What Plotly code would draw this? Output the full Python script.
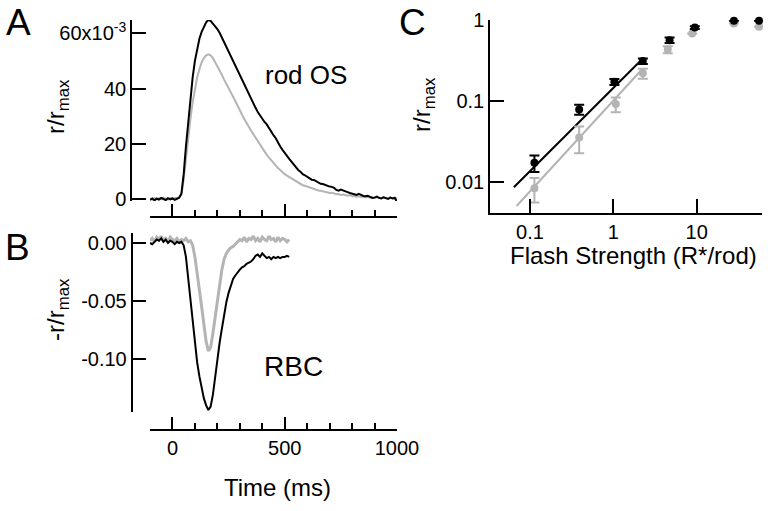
import plotly.graph_objects as go

# ---------------- Panel A: rod outer segment (r/rmax, x10^-3) ----------------
TIME_A = [-100, -90, -80, -70, -60, -50, -40, -30, -20, -10, 0, 10, 20, 30,
          40, 50, 60, 70, 80, 90, 100, 110, 120, 130, 140, 150, 160, 170, 180, 190,
          200, 210, 220, 230, 240, 250, 260, 270, 280, 290, 300, 310, 320, 330, 340,
          350, 360, 370, 380, 390, 400, 410, 420, 430, 440, 450, 460, 470, 480, 490,
          500, 510, 520, 530, 540, 550, 560, 570, 580, 590, 600, 610, 620, 630, 640,
          650, 660, 670, 680, 690, 700, 710, 720, 730, 740, 750, 760, 770, 780, 790,
          800, 810, 820, 830, 840, 850, 860, 870, 880, 890, 900, 910, 920, 930, 940,
          950, 960, 970, 980, 990, 1000]
ROD_BLACK = [-0.3, 0.2, -0.5, 0.1, -0.2, 0.4, 0.0, -0.4, 0.3, -0.1, 0.2, -0.3, 0.1, 0.5,
             2.0, 9.0, 19.0, 28.0, 36.0, 44.0, 50.0, 54.5, 58.0, 60.5, 62.5, 64.0, 64.8, 64.5, 63.5, 62.6,
             61.5, 60.2, 58.5, 56.8, 55.0, 53.3, 51.5, 49.8, 48.0, 46.2, 44.5, 42.7, 41.0, 39.2, 37.5,
             36.0, 34.5, 33.0, 31.5, 30.2, 29.0, 27.9, 27.0, 25.6, 24.5, 23.1, 22.0, 20.4, 19.0, 17.8,
             16.5, 15.6, 14.5, 13.4, 12.5, 11.6, 10.5, 9.9, 9.0, 8.6, 8.0, 7.3, 7.0, 6.9, 6.5,
             5.8, 5.5, 5.4, 5.0, 4.6, 4.5, 4.4, 4.0, 3.3, 3.0, 3.4, 3.0, 2.6, 2.5, 2.2,
             2.0, 1.6, 1.5, 1.9, 1.5, 1.1, 1.0, 1.2, 0.8, 0.4, 0.5, 0.9, 0.4, 0.2, 0.6,
             0.3, 0.0, 0.5, 0.2, 0.4, -1.0]
ROD_GRAY = [0.2, -0.2, 0.4, 0.0, 0.3, -0.1, 0.5, 0.1, -0.2, 0.3, 0.0, 0.4, 0.2, 0.6,
            1.5, 7.0, 15.0, 22.0, 29.0, 35.0, 40.0, 44.0, 47.0, 49.5, 51.0, 52.0, 52.4, 52.0, 51.0, 49.6,
            48.0, 46.6, 45.0, 43.2, 41.5, 40.0, 38.5, 37.0, 35.5, 33.7, 32.0, 30.5, 29.0, 27.4, 26.0,
            24.7, 23.5, 22.2, 21.0, 19.7, 18.5, 17.2, 16.0, 15.0, 14.0, 13.0, 12.0, 11.2, 10.5, 9.7,
            9.0, 8.5, 8.0, 7.4, 7.0, 6.5, 6.0, 5.4, 5.0, 4.8, 4.5, 4.2, 4.0, 3.8, 3.5,
            3.1, 3.0, 2.8, 2.5, 2.4, 2.2, 2.3, 2.0, 1.7, 1.8, 1.5, 1.6, 1.3, 1.2, 1.4,
            1.0, 1.1, 0.8, 1.0, 0.7, 0.9, 0.6, 0.8, 0.5, 0.7, 0.4, 0.6, 0.5, 0.3, 0.7,
            0.4, 0.2, 0.6, 0.3, 0.5, 0.1]

# ---------------- Panel B: rod bipolar cell (-r/rmax) ----------------
TIME_B = [-100, -90, -80, -70, -60, -50, -40, -30, -20, -10, 0, 10, 20, 30,
          40, 50, 60, 70, 80, 90, 100, 110, 120, 130, 140, 150, 160, 170, 180, 190,
          200, 210, 220, 230, 240, 250, 260, 270, 280, 290, 300, 310, 320, 330, 340,
          350, 360, 370, 380, 390, 400, 410, 420, 430, 440, 450, 460, 470, 480, 490,
          500, 510, 520]
RBC_BLACK = [0.000, -0.001, 0.001, 0.003, 0.002, 0.004, 0.001, 0.003, 0.000, 0.002, 0.001, -0.001, 0.001, 0.000,
             0.001, -0.002, -0.012, -0.030, -0.050, -0.070, -0.088, -0.103, -0.115, -0.125, -0.134, -0.140, -0.144, -0.141, -0.131, -0.116,
             -0.100, -0.086, -0.074, -0.062, -0.051, -0.043, -0.037, -0.031, -0.028, -0.025, -0.023, -0.021, -0.020, -0.018, -0.017,
             -0.016, -0.014, -0.011, -0.010, -0.012, -0.009, -0.011, -0.013, -0.012, -0.014, -0.012, -0.013, -0.012, -0.013, -0.012,
             -0.012, -0.011, -0.012]
RBC_GRAY = [0.002, 0.004, 0.001, 0.005, 0.003, 0.006, 0.002, 0.004, 0.001, 0.005, 0.003, 0.002, 0.004, 0.001,
            0.003, 0.002, 0.004, 0.001, 0.002, -0.002, -0.012, -0.025, -0.040, -0.055, -0.070, -0.085, -0.093, -0.090, -0.078, -0.063,
            -0.050, -0.036, -0.023, -0.014, -0.009, -0.006, -0.004, -0.003, -0.001, 0.001, 0.003, 0.002, 0.005, 0.001, 0.004,
            0.003, 0.006, 0.002, 0.004, 0.001, 0.005, 0.003, 0.002, 0.006, 0.003, 0.004, 0.001, 0.005, 0.002, 0.004,
            0.003, 0.001, 0.003]

# ---------------- Panel C: intensity-response ----------------
FLASH_BLACK = [0.113, 0.389, 1.03, 2.26, 4.73, 9.5, 28, 56]
RESP_BLACK = [0.0173, 0.0789, 0.173, 0.312, 0.566, 0.81, 0.98, 0.98]
ERR_BLACK = [0.004, 0.011, 0.015, 0.025, 0.045, 0.03, 0.0, 0.0]
FLASH_GRAY = [0.113, 0.389, 1.07, 2.26, 4.5, 8.83, 28, 56]
RESP_GRAY = [0.0084, 0.0356, 0.0918, 0.22, 0.434, 0.684, 0.91, 0.83]
ERR_GRAY = [0.0028, 0.013, 0.019, 0.031, 0.043, 0.0, 0.0, 0.0]
FIT_BLACK_X = [0.064, 2.26]
FIT_BLACK_Y = [0.0086, 0.336]
FIT_GRAY_X = [0.069, 2.26]
FIT_GRAY_Y = [0.00506, 0.253]

BLACK = "#000000"
GRAY = "#b4b4b4"
FONT = "Arial, Liberation Sans, sans-serif"
W, H = 768, 511


def px(x):
    return x / W


def py(y):
    return 1 - y / H


fig = go.Figure()

fig.add_trace(go.Scatter(x=TIME_A, y=ROD_GRAY, mode="lines", line=dict(color=GRAY, width=2),
                         xaxis="x", yaxis="y", showlegend=False))
fig.add_trace(go.Scatter(x=TIME_A, y=ROD_BLACK, mode="lines", line=dict(color=BLACK, width=2),
                         xaxis="x", yaxis="y", showlegend=False))
fig.add_trace(go.Scatter(x=TIME_B, y=RBC_GRAY, mode="lines", line=dict(color=GRAY, width=3),
                         xaxis="x2", yaxis="y2", showlegend=False))
fig.add_trace(go.Scatter(x=TIME_B, y=RBC_BLACK, mode="lines", line=dict(color=BLACK, width=2),
                         xaxis="x2", yaxis="y2", showlegend=False))

fig.add_trace(go.Scatter(x=FIT_GRAY_X, y=FIT_GRAY_Y, mode="lines", line=dict(color=GRAY, width=2),
                         xaxis="x3", yaxis="y3", showlegend=False))
fig.add_trace(go.Scatter(x=FIT_BLACK_X, y=FIT_BLACK_Y, mode="lines", line=dict(color=BLACK, width=2),
                         xaxis="x3", yaxis="y3", showlegend=False))
fig.add_trace(go.Scatter(x=FLASH_GRAY, y=RESP_GRAY, mode="markers",
                         marker=dict(color=GRAY, size=8),
                         error_y=dict(type="data", array=ERR_GRAY, color=GRAY, thickness=2, width=5),
                         xaxis="x3", yaxis="y3", showlegend=False, cliponaxis=False))
fig.add_trace(go.Scatter(x=FLASH_BLACK, y=RESP_BLACK, mode="markers",
                         marker=dict(color=BLACK, size=8),
                         error_y=dict(type="data", array=ERR_BLACK, color=BLACK, thickness=2, width=5),
                         xaxis="x3", yaxis="y3", showlegend=False, cliponaxis=False))

tickfont = dict(family=FONT, size=20, color="black")
common = dict(showline=True, linecolor="black", linewidth=1.5, showgrid=False, zeroline=False,
              automargin=False, ticks="inside", tickcolor="black", tickwidth=1.5,
              tickfont=tickfont, fixedrange=True)

time_axis = dict(common, domain=[px(150), px(397)], range=[-100, 1000],
                 tickvals=[0, 500, 1000], ticklen=12,
                 minor=dict(dtick=100, tick0=0, ticklen=6, ticks="inside", tickcolor="black", tickwidth=1.5,
                            showgrid=False))

fig.update_layout(
    template="none",
    width=W, height=H, autosize=False,
    margin=dict(l=0, r=0, t=0, b=0, pad=0, autoexpand=False),
    paper_bgcolor="white", plot_bgcolor="white",
    font=dict(family=FONT, color="black"),
    xaxis=dict(time_axis, anchor="free", position=py(217), showticklabels=False),
    yaxis=dict(common, domain=[py(201), py(20)], range=[-0.72, 64.8], anchor="free", position=px(131),
               tickvals=[0, 20, 40, 60], ticktext=["0", "20", "40", "60x10<sup>-3</sup>"], ticklen=14),
    xaxis2=dict(time_axis, anchor="free", position=py(430), showticklabels=True,
                ticktext=["0", "500", "1000"]),
    yaxis2=dict(common, domain=[py(412), py(233)], range=[-0.1457, 0.00862], anchor="free", position=px(131.5),
                tickvals=[0, -0.05, -0.10], ticktext=["0.00", "-0.05", "-0.10"], ticklen=14),
    xaxis3=dict(common, type="log", domain=[px(490), px(762)], range=[-1.48, 1.784], anchor="y3",
                tickvals=[0.1, 1, 10], ticktext=["0.1", "1", "10"], ticklen=14),
    yaxis3=dict(common, type="log", domain=[py(213), py(20)], range=[-2.383, 0.002], anchor="x3",
                tickvals=[0.01, 0.1, 1], ticktext=["0.01", "0.1", "1"], ticklen=14),
)


def note(text, x, y, size, angle=0):
    fig.add_annotation(text=text, x=px(x), y=py(y), xref="paper", yref="paper",
                       showarrow=False, textangle=angle, xanchor="center", yanchor="middle",
                       font=dict(family=FONT, size=size, color="black"))


note("A", 18, 22, 37)
note("B", 17, 247, 37)
note("C", 412, 22, 37)
note("rod OS", 306, 75, 26)
note("RBC", 293, 366, 28)
note("Time (ms)", 277, 487, 24)
note("Flash Strength (R*/rod)", 633, 255, 24)
note("r/r<sub>max</sub>", 57, 107, 24, -90)
note("-r/r<sub>max</sub>", 57, 310, 24, -90)
note("r/r<sub>max</sub>", 424, 105, 24, -90)

fig.write_html("out.html", config={"displayModeBar": False},
               post_script="document.body.style.margin='0';document.body.style.overflow='hidden';")
